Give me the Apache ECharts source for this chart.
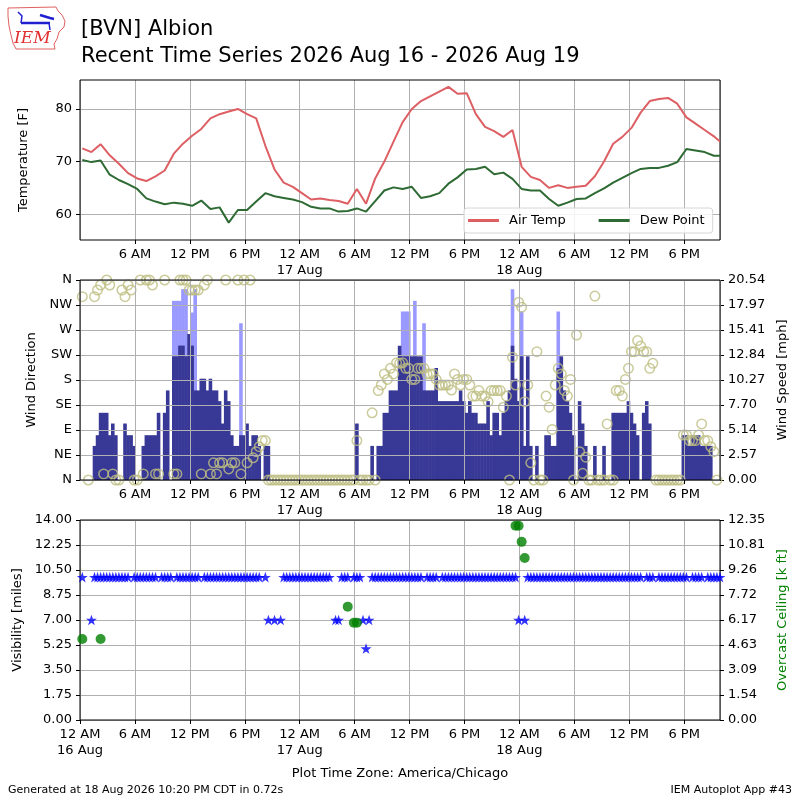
<!DOCTYPE html>
<html><head><meta charset="utf-8">
<script src="https://cdn.jsdelivr.net/npm/echarts@6/dist/echarts.min.js"></script>
<style>html,body{margin:0;padding:0;background:#fff}#c{width:800px;height:800px}</style>
</head><body><div id="c"></div>
<script>
// ---------------- DATA ----------------
// Observations every 20 minutes starting 16 Aug 00:15 CDT (hours since 16 Aug 00:00)
const obsStartHour = 0.25;
const obsStepHours = 1 / 3;
const xMaxHour = 69.92;   // 18 Aug 21:55

// Hourly air temperature / dew point [F] (every third 20-min report) + final report
const airTemp = [72.5, 71.8, 73.3, 71.2, 69.6, 67.8, 66.8, 66.3, 67.2, 68.3,
  71.5, 73.4, 74.9, 76.2, 78.2, 79.0, 79.5, 80.0, 79.0, 78.2,
  73.0, 68.5, 66.0, 65.2, 64.0, 62.8, 63.0, 62.7, 62.5, 62.0,
  64.8, 62.0, 66.8, 70.0, 73.8, 77.5, 80.0, 81.5, 82.4, 83.3,
  84.2, 82.9, 83.0, 79.0, 76.6, 75.8, 74.7, 76.0, 69.0, 67.1,
  66.5, 65.0, 65.5, 65.0, 65.2, 65.4, 67.2, 70.0, 73.4, 74.7,
  76.4, 79.3, 81.5, 81.9, 82.1, 81.0, 78.4, 77.2, 76.0, 74.8,
  73.8];
const dewPoint = [70.3, 69.9, 70.2, 67.5, 66.5, 65.7, 64.8, 63.0, 62.4, 61.9,
  62.2, 62.0, 61.6, 62.6, 61.0, 61.3, 58.4, 60.8, 60.8, 62.4,
  64.0, 63.4, 63.1, 62.8, 62.3, 61.4, 61.1, 61.1, 60.5, 60.6,
  61.1, 60.5, 62.5, 64.5, 65.1, 64.8, 65.2, 63.1, 63.4, 64.0,
  65.8, 67.0, 68.5, 68.6, 69.0, 67.6, 67.9, 66.7, 64.8, 64.5,
  64.5, 62.9, 61.6, 62.2, 62.9, 63.0, 64.0, 64.9, 66.0, 66.9,
  67.8, 68.6, 68.8, 68.8, 69.2, 69.9, 72.4, 72.1, 71.8, 71.1,
  71.1];

// Wind speed [mph], one value per 20-min report
const windSpeed = [0, 0, 0, 0, 3.5, 4.6, 6.9, 6.9, 6.9, 4.6,
  5.8, 4.6, 0, 0, 5.8, 4.6, 4.6, 3.5, 0, 0,
  3.5, 4.6, 4.6, 4.6, 4.6, 6.9, 0, 6.9, 9.2, 0,
  12.7, 12.7, 13.8, 13.8, 12.7, 15.0, 13.8, 9.2, 9.2, 10.4,
  10.4, 9.2, 10.4, 9.2, 9.2, 8.1, 5.8, 9.2, 8.1, 4.6,
  3.5, 3.5, 4.6, 4.6, 5.8, 3.5, 4.6, 4.6, 3.5, 0,
  3.5, 3.5, 0, 0, 0, 0, 0, 0, 0, 0,
  0, 0, 0, 0, 0, 0, 0, 0, 0, 0,
  0, 0, 0, 0, 0, 0, 0, 0, 0, 0,
  5.8, 0, 0, 0, 0, 3.5, 0, 3.5, 3.5, 6.9,
  6.9, 9.2, 9.2, 9.2, 13.8, 12.7, 12.7, 12.7, 12.7, 12.7,
  12.7, 12.7, 9.2, 9.2, 9.2, 9.2, 11.5, 8.1, 8.1, 8.1,
  8.1, 8.1, 8.1, 8.1, 9.2, 8.1, 6.9, 8.1, 6.9, 6.9,
  5.8, 5.8, 5.8, 8.1, 4.6, 6.9, 6.9, 4.6, 6.9, 8.1,
  9.2, 13.8, 10.4, 8.1, 12.7, 3.5, 12.7, 3.5, 0, 3.5,
  0, 0, 4.6, 4.6, 3.5, 3.5, 11.5, 12.7, 9.2, 8.1,
  6.9, 4.6, 0, 8.1, 5.8, 3.5, 0, 0, 3.5, 0,
  0, 3.5, 0, 0, 6.9, 6.9, 6.9, 6.9, 6.9, 8.1,
  6.9, 5.8, 4.6, 0, 6.9, 8.1, 5.8, 0, 0, 0,
  0, 0, 0, 0, 0, 0, 0, 4.6, 4.6, 3.5,
  4.6, 4.6, 4.6, 3.5, 3.5, 3.5, 3.5, 0, 0, 0];

// Wind gusts [mph]: [report index, gust]
const windGust = [[30, 18.4], [31, 18.4], [32, 18.4], [33, 19.6], [34, 19.6], [36, 17.2], [37, 19.6],
  [52, 16.1], [105, 17.3], [106, 17.3], [107, 17.3], [109, 18.4], [112, 16.1],
  [141, 19.6], [144, 17.3], [156, 17.3]];

// Wind direction [deg], one value per 20-min report
const windDir = [330, null, 0, null, 330, 342, 351, 11, 360, 351,
  11, 0, 0, 342, 330, 351, 342, 0, 0, 360,
  11, 360, 360, 351, 11, 11, null, 360, null, null,
  11, 11, 360, 360, 360, 342, 342, 342, 342, 11,
  351, 360, 11, 31, 11, 31, 31, 360, 20, 31,
  31, 360, 11, 360, 31, 360, 40, 51, 60, 71,
  71, 0, 0, 0, 0, 0, 0, 0, 0, 0,
  0, 0, 0, 0, 0, 0, 0, 0, 0, 0,
  0, 0, 0, 0, 0, 0, 0, 0, 0, 0,
  71, 0, 0, 0, 0, 121, 0, 161, 171, 191,
  181, 201, 191, 211, 210, 211, 201, 201, 181, 181,
  201, 201, 201, 191, 191, 191, 181, 171, 171, 171,
  171, 162, 191, 181, 171, 181, 181, 171, 151, 151,
  161, 151, 151, 141, 161, 161, 161, 161, 131, 151,
  0, 221, 171, 320, 311, 141, 171, 31, 0, 231,
  0, 0, 151, 131, 91, 171, 201, 191, 161, 151,
  181, 0, 261, 51, 12, 41, 0, 0, 331, 0,
  0, 0, 101, 0, 0, 161, 161, 151, 181, 201,
  231, 231, 251, 241, 231, 231, 201, 210, 0, 0,
  0, 0, 0, 0, 0, 0, 0, 81, 81, 71,
  71, 71, 81, 101, 71, 71, 60, 51, 0, null];

// Visibility [miles], one value per 20-min report
const visibility = [10, null, null, 7, 10, 10, 10, 10, 10, 10,
  10, 10, 10, 10, 10, 10, null, 10, 10, 10,
  10, 10, 10, 10, 10, null, 10, 10, 10, 10,
  null, 10, 10, 10, 10, 10, 10, 10, 10, null,
  10, 10, 10, 10, 10, 10, 10, 10, 10, 10,
  10, 10, 10, 10, 10, 10, 10, 10, 10, null,
  10, 7, null, 7, null, 7, 10, 10, 10, 10,
  10, 10, 10, 10, 10, 10, 10, 10, 10, 10,
  10, 10, null, 7, 7, 10, 10, 10, null, 10,
  10, 10, 7, 5, 7, 10, 10, 10, 10, 10,
  10, 10, 10, 10, 10, 10, 10, 10, 10, 10,
  10, 10, null, 10, 10, 10, 10, null, 10, 10,
  10, 10, 10, 10, 10, 10, 10, 10, 10, 10,
  10, 10, 10, 10, 10, 10, 10, 10, 10, 10,
  10, 10, 10, 7, null, 7, 10, 10, 10, 10,
  10, 10, 10, 10, 10, 10, 10, 10, 10, 10,
  10, 10, 10, 10, 10, 10, 10, 10, 10, 10,
  10, 10, 10, 10, 10, 10, 10, 10, 10, 10,
  10, 10, 10, 10, null, 10, 10, 10, null, 10,
  10, 10, 10, 10, 10, 10, 10, 10, 10, null,
  10, 10, 10, 10, null, 10, 10, 10, 10, 10];

// Overcast ceiling [k ft]: [report index, ceiling]
const ceiling = [[0, 5.0], [6, 5.0], [87, 7.0], [89, 6.0], [90, 6.0],
  [142, 12.0], [143, 12.0], [144, 11.0], [145, 10.0]];

// Tick labels
const dirLabels = ['N', 'NE', 'E', 'SE', 'S', 'SW', 'W', 'NW', 'N'];
const speedLabels = ['0.00', '2.57', '5.14', '7.70', '10.27', '12.84', '15.41', '17.97', '20.54'];
const visLabels = ['0.00', '1.75', '3.50', '5.25', '7.00', '8.75', '10.50', '12.25', '14.00'];
const ceilLabels = ['0.00', '1.54', '3.09', '4.63', '6.17', '7.72', '9.26', '10.81', '12.35'];
const tempTicks = [60, 70, 80];

// ---------------- BUILD ----------------
const FONT = 'DejaVu Sans';
const hourOf = i => obsStartHour + i * obsStepHours;
const tempIndex = k => (k < airTemp.length - 1 ? 3 * k : windSpeed.length - 1);

const airData = airTemp.map((v, k) => [hourOf(tempIndex(k)), v]);
const dewData = dewPoint.map((v, k) => [hourOf(tempIndex(k)), v]);
const speedData = windSpeed.map((v, i) => [hourOf(i), v]).filter(d => d[1] > 0);
const gustData = windGust.map(d => [hourOf(d[0]), d[1]]);
const dirData = windDir.map((v, i) => [hourOf(i), v]).filter(d => d[1] !== null);
const visData = visibility.map((v, i) => [hourOf(i), v]).filter(d => d[1] !== null);
const ceilData = ceiling.map(d => [hourOf(d[0]), d[1]]);

function xLabel(v, showZero) {
  const r = Math.round(v);
  if (Math.abs(v - r) > 1e-6 || r % 6 !== 0) return '';
  if (r === 0 && !showZero) return '';
  const h = r % 24, d = 16 + Math.floor(r / 24);
  if (h === 0) return '12 AM\n' + d + ' Aug';
  if (h === 6) return '6 AM';
  if (h === 12) return '12 PM';
  return '6 PM';
}
function idxLabel(arr, step) {
  return v => { const k = Math.round(v / step); return (Math.abs(v - k * step) < 1e-6 && arr[k] !== undefined) ? arr[k] : ''; };
}
const gridLine = { show: true, lineStyle: { color: '#b0b0b0', width: 1 } };
const tickStyle = { show: true, length: 4, inside: false, lineStyle: { color: '#000' } };
const labelBase = { color: '#000', fontSize: 13, fontFamily: FONT };
const nameStyle = { color: '#000', fontSize: 13, fontFamily: FONT };

function xAxisFor(g, showZero, z) {
  return {
    type: 'value', gridIndex: g, min: 0, max: xMaxHour, interval: 6, z: z || 0,
    axisLine: { show: false }, axisTick: tickStyle,
    axisLabel: Object.assign({}, labelBase, { margin: 7, lineHeight: 16, showMaxLabel: false, showMinLabel: showZero, formatter: v => xLabel(v, showZero) }),
    splitLine: gridLine
  };
}

const starPath = 'path://M50,0 L61.8,35.3 L97.6,35.3 L68.5,57.1 L79.4,91.5 L50,70.5 L20.6,91.5 L31.5,57.1 L2.4,35.3 L38.2,35.3 Z';

const option = {
  animation: false,
  backgroundColor: '#fff',
  textStyle: { fontFamily: FONT },
  grid: [
    { left: 80, top: 80, width: 640, height: 160, show: true, borderColor: '#000', borderWidth: 1, backgroundColor: 'transparent', z: 4 },
    { left: 80, top: 280, width: 640, height: 200, show: true, borderColor: '#000', borderWidth: 1, backgroundColor: 'transparent', z: 4 },
    { left: 80, top: 520, width: 640, height: 200, show: true, borderColor: '#000', borderWidth: 1, backgroundColor: 'transparent', z: 4 }
  ],
  xAxis: [xAxisFor(0, false), xAxisFor(1, false, 3), xAxisFor(2, true)],
  yAxis: [
    { type: 'value', gridIndex: 0, min: 55.1, max: 85.5,
      name: 'Temperature [F]', nameLocation: 'middle', nameGap: 50, nameTextStyle: nameStyle,
      axisLine: { show: false }, axisTick: Object.assign({}, tickStyle, { customValues: tempTicks }),
      axisLabel: Object.assign({}, labelBase, { margin: 8, customValues: tempTicks }),
      splitLine: gridLine },
    { type: 'value', gridIndex: 1, min: 0, max: 360, interval: 45, z: 3,
      name: 'Wind Direction', nameLocation: 'middle', nameGap: 40, nameTextStyle: nameStyle,
      axisLine: { show: false }, axisTick: tickStyle,
      axisLabel: Object.assign({}, labelBase, { margin: 8, formatter: idxLabel(dirLabels, 45) }),
      splitLine: gridLine },
    { type: 'value', gridIndex: 1, position: 'right', min: 0, max: 20.54, interval: 2.5675,
      name: 'Wind Speed [mph]', nameLocation: 'middle', nameGap: 55, nameTextStyle: nameStyle,
      axisLine: { show: false }, axisTick: tickStyle,
      axisLabel: Object.assign({}, labelBase, { margin: 8, formatter: idxLabel(speedLabels, 2.5675) }),
      splitLine: { show: false } },
    { type: 'value', gridIndex: 2, min: 0, max: 14, interval: 1.75,
      name: 'Visibility [miles]', nameLocation: 'middle', nameGap: 56, nameTextStyle: nameStyle,
      axisLine: { show: false }, axisTick: tickStyle,
      axisLabel: Object.assign({}, labelBase, { margin: 8, formatter: idxLabel(visLabels, 1.75) }),
      splitLine: gridLine },
    { type: 'value', gridIndex: 2, position: 'right', min: 0, max: 12.35, interval: 1.54375,
      name: 'Overcast Ceiling [k ft]', nameLocation: 'middle', nameGap: 54,
      nameTextStyle: Object.assign({}, nameStyle, { color: '#008000' }),
      axisLine: { show: false }, axisTick: tickStyle,
      axisLabel: Object.assign({}, labelBase, { margin: 8, formatter: idxLabel(ceilLabels, 1.54375) }),
      splitLine: { show: false } }
  ],
  legend: {
    data: ['Air Temp', 'Dew Point'], left: 464, top: 208, orient: 'horizontal',
    icon: 'rect', itemWidth: 31, itemHeight: 3, itemGap: 33,
    padding: [6, 8, 6, 4], borderColor: '#d6d6d6', borderWidth: 1, borderRadius: 3,
    backgroundColor: 'rgba(255,255,255,0.85)',
    textStyle: { fontSize: 13, color: '#000', fontFamily: FONT, padding: [0, 0, 0, 5] }
  },
  series: [
    { name: 'Air Temp', type: 'line', xAxisIndex: 0, yAxisIndex: 0, data: airData, showSymbol: false,
      lineStyle: { color: '#dd5f64', width: 2 }, itemStyle: { color: '#dd5f64' }, z: 5 },
    { name: 'Dew Point', type: 'line', xAxisIndex: 0, yAxisIndex: 0, data: dewData, showSymbol: false,
      lineStyle: { color: '#2e6a33', width: 2 }, itemStyle: { color: '#2e6a33' }, z: 5 },
    { name: 'Gust', type: 'bar', xAxisIndex: 1, yAxisIndex: 2, data: gustData, barWidth: 3.6, barGap: '-100%',
      itemStyle: { color: '#9999ff' }, z: 1 },
    { name: 'Speed', type: 'bar', xAxisIndex: 1, yAxisIndex: 2, data: speedData, barWidth: 3.6, barGap: '-100%',
      itemStyle: { color: '#383896' }, z: 2 },
    { name: 'Direction', type: 'scatter', xAxisIndex: 1, yAxisIndex: 1, data: dirData, symbol: 'circle', symbolSize: 9.5,
      itemStyle: { color: 'rgba(0,0,0,0)', borderColor: '#bebe82', borderWidth: 1.5 }, z: 2 },
    { name: 'Visibility', type: 'scatter', xAxisIndex: 2, yAxisIndex: 3, data: visData, symbol: starPath,
      symbolKeepAspect: true, symbolSize: 11, itemStyle: { color: '#0000ff' }, z: 5 },
    { name: 'Ceiling', type: 'scatter', xAxisIndex: 2, yAxisIndex: 4, data: ceilData, symbol: 'circle',
      symbolSize: 10, itemStyle: { color: '#008000' }, z: 5 }
  ],
  graphic: [
    // IEM logo
    { type: 'polygon', shape: { points: [[8, 8], [56, 7], [58, 11], [62, 15], [65, 21], [64, 27], [59, 32], [57, 39], [54, 44], [55, 49], [16, 49], [13, 43], [11, 35], [9, 26], [8, 16]] },
      style: { fill: 'none', stroke: '#e06060', lineWidth: 1 } },
    { type: 'polyline', shape: { points: [[21, 23], [50, 23]] }, style: { stroke: '#2020d0', lineWidth: 2.5 } },
    { type: 'polyline', shape: { points: [[18, 12], [22, 16], [21, 23]] }, style: { stroke: '#2020d0', lineWidth: 1.5, fill: 'none' } },
    { type: 'polyline', shape: { points: [[40, 15], [50, 18], [54, 19]] }, style: { stroke: '#2020d0', lineWidth: 2.5, fill: 'none' } },
    { type: 'polyline', shape: { points: [[49, 23], [50, 30]] }, style: { stroke: '#2020d0', lineWidth: 1.5, fill: 'none' } },
    { type: 'text', style: { text: 'IEM', x: 14, y: 39, font: 'italic 17px "DejaVu Serif"', fill: '#e03030', verticalAlign: 'middle' } },
    // titles
    { type: 'text', style: { text: '[BVN] Albion', x: 81, y: 30, font: '21px "DejaVu Sans"', fill: '#000', verticalAlign: 'middle' } },
    { type: 'text', style: { text: 'Recent Time Series 2026 Aug 16 - 2026 Aug 19', x: 81, y: 57, font: '21px "DejaVu Sans"', fill: '#000', verticalAlign: 'middle' } },
    // footer
    { type: 'text', style: { text: 'Plot Time Zone: America/Chicago', x: 400, y: 774, font: '13px "DejaVu Sans"', fill: '#000', align: 'center', verticalAlign: 'middle' } },
    { type: 'text', style: { text: 'Generated at 18 Aug 2026 10:20 PM CDT in 0.72s', x: 8, y: 790, font: '11px "DejaVu Sans"', fill: '#000', verticalAlign: 'middle' } },
    { type: 'text', style: { text: 'IEM Autoplot App #43', x: 792, y: 790, font: '11px "DejaVu Sans"', fill: '#000', align: 'right', verticalAlign: 'middle' } }
  ]
};

const chart = echarts.init(document.getElementById('c'), null, { renderer: 'canvas' });
chart.setOption(option);
</script></body></html>
